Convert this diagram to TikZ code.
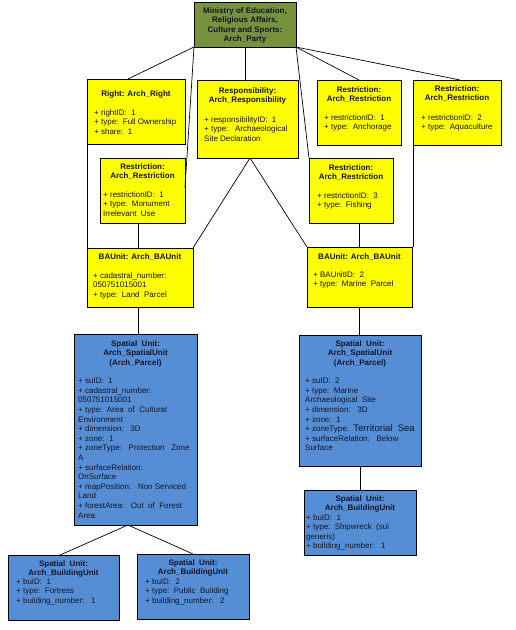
\documentclass[tikz,border=0pt]{standalone}
\usepackage{fontspec}
\setmainfont{Liberation Sans}
\usetikzlibrary{fit}
\definecolor{olivebox}{HTML}{76923C}
\definecolor{yellowbox}{HTML}{FFFF00}
\definecolor{bluebox}{HTML}{558ED5}
\definecolor{txtdark}{HTML}{141428}
\newcommand\ubox[4]{\node[#1, fit={(#3) (#4)}] (#2) {};}
\tikzset{
  boxbase/.style={draw=black, line width=0.8pt, inner sep=0pt, outer sep=0pt},
  gbox/.style={boxbase, fill=olivebox},
  ybox/.style={boxbase, fill=yellowbox},
  bbox/.style={boxbase, fill=bluebox},
  ttl/.style={font={\fontsize{8}{9.5}\selectfont\bfseries}, text=txtdark, align=center, inner sep=0pt, anchor=north},
  att/.style={font={\fontsize{8}{9.6}\selectfont}, text=txtdark, align=left, inner sep=0pt, anchor=north west},
  conn/.style={draw=black, line width=0.7pt}
}
\begin{document}
\begin{tikzpicture}[x=1pt, y=-1pt]
\path[use as bounding box, fill=white] (0,0) rectangle (515,630);

% boxes
\ubox{gbox}{party}{194,2}{296,47}
\ubox{ybox}{right}{87,79}{185,144}
\ubox{ybox}{resp}{197,80}{298,158}
\ubox{ybox}{anch}{317,80}{401,145}
\ubox{ybox}{aqua}{413,80}{501,145}
\ubox{ybox}{monu}{100,158}{185,223}
\ubox{ybox}{fish}{309,158}{393,223}
\ubox{ybox}{baone}{87,248}{193,307}
\ubox{ybox}{batwo}{307,247}{412,307}
\ubox{bbox}{suone}{74,334}{197,525}
\ubox{bbox}{sutwo}{299,335}{421,466}
\ubox{bbox}{bus}{304,490}{416,555}
\ubox{bbox}{buone}{8,555}{119,620}
\ubox{bbox}{butwo}{137,554}{249,619}

% texts
\node[ttl] (partyT) at (245,7) {Ministry of Education,\\Religious Affairs,\\Culture and Sports:\\Arch\_Party};

\node[ttl] (rightT) at (136,90) {Right: Arch\_Right};
\node[att] (rightA) at (94,109) {+ rightID:\ \ 1\\+ type:\ \ Full Ownership\\+ share:\ \ 1};

\node[ttl] (respT) at (247.5,87) {Responsibility:\\Arch\_Responsibility};
\node[att] (respA) at (204,116) {+ responsibilityID:\ \ 1\\+ type:\ \ \ Archaeological\\Site Declaration};

\node[ttl] (anchT) at (359,86) {Restriction:\\Arch\_Restriction};
\node[att] (anchA) at (324,114) {+ restrictionID:\ \ 1\\+ type:\ \ Anchorage};

\node[ttl] (aquaT) at (457,85) {Restriction:\\Arch\_Restriction};
\node[att] (aquaA) at (421,114) {+ restrictionID:\ \ 2\\+ type:\ \ Aquaculture};

\node[ttl] (monuT) at (142.5,163) {Restriction:\\Arch\_Restriction};
\node[att] (monuA) at (103,191) {+ restrictionID:\ \ 1\\+ type:\ \ Monument\\Irrelevant\ \ Use};

\node[ttl] (fishT) at (351,164) {Restriction:\\Arch\_Restriction};
\node[att] (fishA) at (317,192) {+ restrictionID:\ \ 3\\+ type:\ \ Fishing};

\node[ttl] (baoneT) at (140,253) {BAUnit: Arch\_BAUnit};
\node[att] (baoneA) at (93,272) {+ cadastral\_number:\\050751015001\\+ type:\ \ Land\ \ Parcel};

\node[ttl] (batwoT) at (359.5,253) {BAUnit: Arch\_BAUnit};
\node[att] (batwoA) at (313,271) {+ BAUnitID:\ \ 2\\+ type:\ \ Marine\ \ Parcel};

\node[ttl] (suoneT) at (135.5,340) {Spatial\ \ Unit:\\Arch\_SpatialUnit\\(Arch\_Parcel)};
\node[att] (suoneA) at (78,378) {+ suID:\ \ 1\\+ cadastral\_number:\\050751015001\\+ type:\ \ Area\ \ of\ \ Cultural\\Environment\\+ dimension:\ \ \ 3D\\+ zone:\ \ 1\\+ zoneType:\ \ \ Protection\ \ \ Zone\\A\\+ surfaceRelation:\\OnSurface\\+ mapPosition:\ \ \ Non Serviced\\Land\\+ forestArea:\ \ \ Out\ \ of\ \ Forest\\Area};

\node[ttl] (sutwoT) at (360,340) {Spatial\ \ Unit:\\Arch\_SpatialUnit\\(Arch\_Parcel)};
\node[att] (sutwoA) at (305,378) {+ suID:\ \ 2\\+ type:\ \ Marine\\Archaeological\ \ Site\\+ dimension:\ \ \ 3D\\+ zone:\ \ 1\\+ zoneType:\ \ {\fontsize{9.5}{9.6}\selectfont Territorial\ \ Sea}\\+ surfaceRelation:\ \ \ Below\\Surface};

\node[ttl] (busT) at (360,495) {Spatial\ \ Unit:\\Arch\_BuildingUnit};
\node[att] (busA) at (306,514) {+ buID:\ \ 1\\+ type:\ \ Shipwreck\ \ (sui\\generis)\\+ building\_number:\ \ \ 1};

\node[ttl] (buoneT) at (63.5,560) {Spatial\ \ Unit:\\Arch\_BuildingUnit};
\node[att] (buoneA) at (16,578) {+ buID:\ \ 1\\+ type:\ \ Fortress\\+ building\_number:\ \ \ 1};

\node[ttl] (butwoT) at (193,559) {Spatial\ \ Unit:\\Arch\_BuildingUnit};
\node[att] (butwoA) at (145,578) {+ buID:\ \ 2\\+ type:\ \ Public\ \ Building\\+ building\_number:\ \ \ 2};

% connectors
\draw[conn] (party.south west) -- ([xshift=-8pt]right.north);
\draw[conn] (party.south west) -- ([yshift=3pt]monu.east);
\draw[conn] (party.south) -- (party.south |- resp.north);
\draw[conn] (party.south east) -- (fish.north west);
\draw[conn] (party.south east) -- (anch.north);
\draw[conn] (party.south east) -- ([xshift=3pt]aqua.north);
\draw[conn] (right.south west) -- (baone.north west);
\draw[conn] (aqua.south west) -- (aqua.south west |- batwo.north);
\draw[conn] ([xshift=-4.5pt]monu.south) -- ([xshift=-4.5pt]monu.south |- baone.north);
\draw[conn] (batwo.north) -- (batwo.north |- fish.south);
\draw[conn] ([xshift=2.5pt]resp.south) -- (baone.north east);
\draw[conn] ([xshift=2.5pt]resp.south) -- (batwo.north west);
\draw[conn] ([xshift=-2pt]baone.south) -- ([xshift=-2pt]baone.south |- suone.north);
\draw[conn] (batwo.south) -- (batwo.south |- sutwo.north);
\draw[conn] (sutwo.south) -- (sutwo.south |- bus.north);
\draw[conn] ([xshift=-7.5pt]suone.south) -- ([xshift=-3.5pt]buone.north);
\draw[conn] ([xshift=-7.5pt]suone.south) -- (butwo.north);
\end{tikzpicture}
\end{document}
